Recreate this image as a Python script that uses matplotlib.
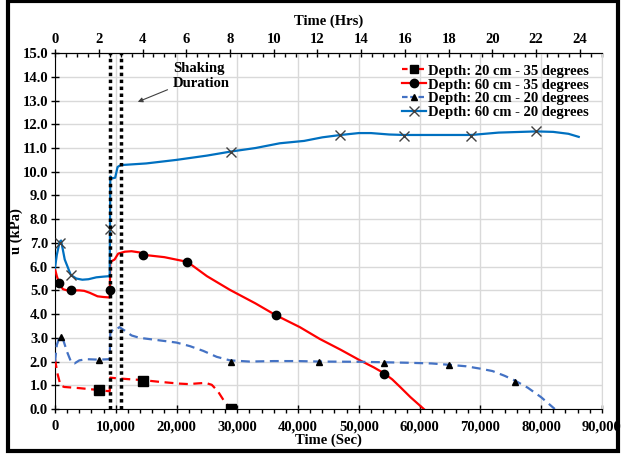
import numpy as np
import matplotlib.pyplot as plt
from matplotlib.lines import Line2D
from matplotlib.patches import Rectangle
from matplotlib.ticker import MultipleLocator, FuncFormatter

plt.rcParams["font.family"] = ["Liberation Serif", "DejaVu Serif"]
plt.rcParams["font.weight"] = "bold"

# Depth 20 cm - 35 degrees (red dashed, squares)
t_20_35 = [0, 400, 900, 1500, 2500, 4000, 6000, 7200, 8500, 9000, 9100, 10000, 12000, 14400,
           17000, 20500, 22000, 23500, 24800, 25800, 26800, 27800, 28900]
u_20_35 = [2.1, 1.5, 1.0, 0.93, 0.91, 0.88, 0.83, 0.80, 0.76, 0.75, 1.32, 1.30, 1.26, 1.22,
           1.15, 1.07, 1.05, 1.08, 1.10, 1.02, 0.75, 0.35, 0.0]
mt_20_35 = [7200, 14400, 28900]
mu_20_35 = [0.79, 1.20, 0.0]

# Depth 60 cm - 35 degrees (red solid, circles)
t_60_35 = [0, 300, 700, 1300, 2000, 2700, 4000, 4800, 5700, 7000, 8000, 9000, 9100, 9800,
           10400, 11500, 12600, 13900, 14500, 18000, 21800, 25000, 28800, 33000, 36300,
           40300, 43600, 47000, 50200, 52500, 54200, 55500, 56800, 58500, 60700]
u_60_35 = [5.9, 5.6, 5.3, 5.05, 5.0, 5.0, 5.0, 4.98, 4.9, 4.75, 4.72, 4.7, 6.2, 6.3,
           6.55, 6.63, 6.65, 6.6, 6.5, 6.4, 6.2, 5.6, 5.02, 4.45, 3.96,
           3.45, 2.95, 2.5, 2.05, 1.75, 1.5, 1.25, 0.93, 0.5, 0.0]
mt_60_35 = [660, 2640, 9060, 14450, 21800, 36300, 54200]
mu_60_35 = [5.32, 5.0, 5.03, 6.51, 6.18, 3.96, 1.49]

# Depth 20 cm - 20 degrees (blue dashed, triangles)
t_20_20 = [0, 300, 770, 1300, 2000, 2700, 3200, 4000, 5200, 7200, 9000, 9100, 9700, 10200,
           10600, 11500, 12600, 13900, 17000, 20000, 22200, 24400, 26600, 28800, 32000,
           36000, 40000, 43500, 50000, 54200, 58000, 62000, 65000, 67700, 70000, 72000,
           74000, 75700, 77800, 80000, 82260]
u_20_20 = [2.0, 2.7, 3.05, 2.95, 2.4, 1.95, 1.92, 2.05, 2.1, 2.08, 2.1, 3.2, 3.4, 3.38,
           3.45, 3.3, 3.1, 3.0, 2.9, 2.8, 2.65, 2.45, 2.2, 2.05, 2.0,
           2.02, 2.02, 2.0, 1.99, 1.97, 1.95, 1.92, 1.86, 1.8, 1.7, 1.6,
           1.4, 1.2, 0.9, 0.5, 0.0]
mt_20_20 = [930, 7200, 29000, 43400, 54200, 64900, 75700]
mu_20_20 = [3.03, 2.06, 2.0, 2.0, 1.95, 1.84, 1.13]

# Depth 60 cm - 20 degrees (blue solid, crosses)
t_60_20 = [0, 300, 770, 1000, 1600, 2600, 3500, 4500, 5500, 6800, 8000, 9000, 9050, 9100,
           9400, 9900, 10300, 10800, 12000, 15000, 20000, 25000, 28900, 33000, 37000,
           41000, 44000, 47000, 50000, 52000, 55000, 57500, 63000, 68500, 73000, 79200,
           82000, 84500, 86200]
u_60_20 = [5.95, 6.5, 7.05, 7.1, 6.3, 5.65, 5.5, 5.45, 5.47, 5.55, 5.58, 5.6, 7.58, 9.8,
           9.72, 9.75, 10.2, 10.28, 10.3, 10.35, 10.5, 10.68, 10.85, 11.0, 11.2,
           11.3, 11.45, 11.55, 11.63, 11.63, 11.57, 11.55, 11.55, 11.55, 11.65, 11.7,
           11.68, 11.6, 11.47]
mt_60_20 = [770, 2600, 9100, 28900, 46900, 57500, 68500, 79200]
mu_60_20 = [6.98, 5.63, 7.58, 10.85, 11.55, 11.52, 11.52, 11.7]

shaking = [9050, 10850]

labels = ["Depth: 20 cm - 35 degrees", "Depth: 60 cm - 35 degrees",
          "Depth: 20 cm - 20 degrees", "Depth: 60 cm - 20 degrees"]

fig = plt.figure(figsize=(6.23, 4.54), dpi=100)
ax = fig.add_axes([0.0883, 0.0991, 0.8777, 0.7839])

red = "#ff0000"
blue = "#0070c0"
lblue = "#4472c4"
fs = 10.5

ax.plot(t_20_35, u_20_35, color=red, lw=1.6, ls=(0, (4, 2.5)), zorder=3)
ax.plot(mt_20_35, mu_20_35, ls="none", marker="s", ms=6.5, color="k", zorder=4)
ax.plot(t_60_35, u_60_35, color=red, lw=1.6, zorder=3)
ax.plot(mt_60_35, mu_60_35, ls="none", marker="o", ms=6, color="k", zorder=4)
ax.plot(t_20_20, u_20_20, color=lblue, lw=1.6, ls=(0, (4, 2.5)), zorder=3)
ax.plot(mt_20_20, mu_20_20, ls="none", marker="^", ms=5, color="k", zorder=4)
ax.plot(t_60_20, u_60_20, color=blue, lw=1.6, zorder=3)
ax.plot(mt_60_20, mu_60_20, ls="none", marker="x", ms=7, mew=1.0, color="#404040", zorder=4)

for xs in shaking:
    ax.axvline(xs, color="k", lw=2.5, ls=(0, (1, 1)), zorder=5)

ax.set_xlim(0, 90000)
ax.set_ylim(0, 15)
ax.xaxis.set_major_locator(MultipleLocator(10000))
ax.xaxis.set_minor_locator(MultipleLocator(2000))
ax.yaxis.set_major_locator(MultipleLocator(1))
ax.xaxis.set_major_formatter(FuncFormatter(lambda v, p: f"{int(v):,}"))
ax.yaxis.set_major_formatter(FuncFormatter(lambda v, p: f"{v:.1f}"))
ax.tick_params(axis="both", which="major", direction="inout", length=6, width=1,
               labelsize=fs, pad=2)
ax.tick_params(axis="x", which="major", pad=5)
ax.tick_params(axis="x", which="minor", direction="out", length=3, width=1)
ax.grid(True, color="#d9d9d9", lw=1)
ax.set_axisbelow(True)
ax.spines["right"].set_color("#d9d9d9")
for lab in ax.get_xticklabels() + ax.get_yticklabels():
    lab.set_fontweight("bold")
ax.set_xlabel("Time (Sec)", fontsize=fs, fontweight="bold", labelpad=0)
ax.set_ylabel("u (kPa)", fontsize=fs, fontweight="bold")
ax.yaxis.set_label_coords(-0.058, 0.5)

top = ax.secondary_xaxis("top", functions=(lambda s: s / 3600, lambda h: h * 3600))
top.set_xticks([0, 2, 4, 6, 8, 10, 12, 14, 16, 18, 20, 22, 24])
top.xaxis.set_minor_locator(MultipleLocator(0.5))
top.tick_params(which="major", direction="inout", length=6, width=1, labelsize=fs, pad=2)
top.tick_params(which="minor", direction="in", length=3, width=1)
for lab in top.get_xticklabels():
    lab.set_fontweight("bold")
top.set_xlabel("Time (Hrs)", fontsize=fs, fontweight="bold", labelpad=6)

ax.annotate("Shaking\nDuration", xy=(13200, 12.9), xytext=(19400, 13.45),
            fontsize=fs, fontweight="bold", ha="left", va="bottom",
            arrowprops=dict(arrowstyle="-|>", color="#404040", lw=0.8,
                            mutation_scale=7))

handles = [
    Line2D([], [], color=red, lw=1.6, ls=(0, (2.5, 1.2)), marker="s", ms=6, mfc="k", mec="k"),
    Line2D([], [], color=red, lw=1.6, marker="o", ms=6, mfc="k", mec="k"),
    Line2D([], [], color=lblue, lw=1.6, ls=(0, (2.5, 1.2)), marker="^", ms=5, mfc="k", mec="k"),
    Line2D([], [], color=blue, lw=1.6, marker="x", ms=7, mew=1.0, mec="#404040"),
]
leg = ax.legend(handles, labels, loc="upper right", frameon=False, fontsize=fs,
                handlelength=1.6, handletextpad=0.15, labelspacing=0.05,
                borderaxespad=0.3, bbox_to_anchor=(0.995, 0.997))
for t in leg.get_texts():
    t.set_fontweight("bold")

fig.add_artist(Rectangle((0.0128, 0.0077), 0.979, 0.989, transform=fig.transFigure,
                         fill=False, edgecolor="k", lw=3))

fig.savefig("out.png", dpi=100)
